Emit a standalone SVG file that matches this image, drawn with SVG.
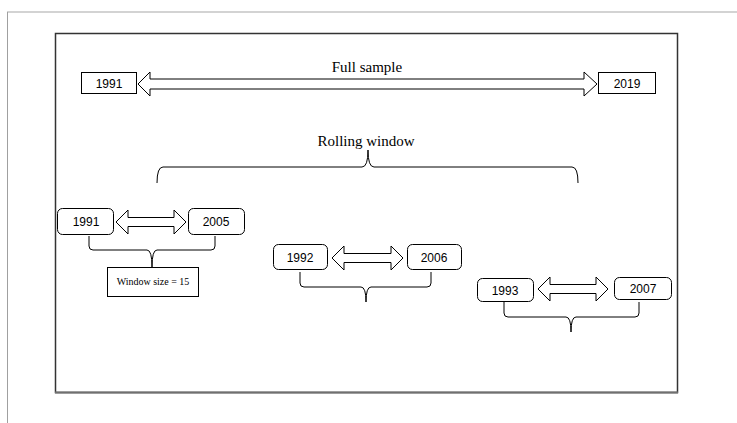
<svg xmlns="http://www.w3.org/2000/svg" width="737" height="423" viewBox="0 0 737 423">
<style>
.box{fill:#fff;stroke:#000;stroke-width:1}
.arr{fill:#fff;stroke:#000;stroke-width:1;stroke-linejoin:miter}
.br{fill:none;stroke:#000;stroke-width:1}
.num{font-family:"Liberation Sans",Arial,sans-serif;font-size:12px;text-anchor:middle;fill:#000}
.ser{font-family:"Liberation Serif","Times New Roman",serif;text-anchor:middle;fill:#000}
</style>
<rect x="0" y="0" width="737" height="423" fill="#fff"/>
<line x1="7" y1="12" x2="737" y2="12" stroke="#c4c4c4" stroke-width="1.5"/>
<line x1="7.5" y1="12" x2="7.5" y2="423" stroke="#a0a0a0" stroke-width="1"/>
<g id="frame">
<rect x="55.5" y="33.5" width="622" height="359" fill="none" stroke="#333" stroke-width="1.5"/>
<line x1="55" y1="392.5" x2="678" y2="392.5" stroke="#707070" stroke-width="2"/>
</g>
<g id="connectors">
<polygon class="arr" points="138,84 150,72 150,79 584,79 584,72 597,84 584,96 584,89 150,89 150,96"/>
<polygon class="arr" points="116,222 128,210 128,217.5 174,217.5 174,210 186,222 174,234 174,226.5 128,226.5 128,234"/>
<polygon class="arr" points="332,258 344,246 344,253.5 391,253.5 391,246 403,258 391,270 391,262.5 344,262.5 344,270"/>
<polygon class="arr" points="538,289 550,277 550,284.5 596,284.5 596,277 608,289 596,301 596,293.5 550,293.5 550,301"/>
<path class="br" d="M157,183 Q157,167 163,167 L362,167 Q368,167 368,150 Q368,167 374,167 L572,167 Q578,167 578,183"/>
<path class="br" d="M89,236 L89,246 Q89,250 93,250 L147,250 Q152,250 152,267 Q152,250 157,250 L211,250 Q215,250 215,246 L215,236"/>
<path class="br" d="M300,272 L300,283 Q300,287 304,287 L361,287 Q366,287 366,302 Q366,287 371,287 L427,287 Q431,287 431,283 L431,272"/>
<path class="br" d="M504,302 L504,313 Q504,317 508,317 L566,317 Q571,317 571,332 Q571,317 576,317 L635,317 Q639,317 639,313 L639,302"/>
</g>
<g id="label-full-sample"><text class="ser" x="367" y="72" font-size="15">Full sample</text></g>
<g id="label-rolling-window"><text class="ser" x="366" y="146" font-size="15">Rolling window</text></g>
<g id="node-1991-full"><rect class="box" x="81.5" y="72.5" width="55" height="21"/><text class="num" x="109" y="88">1991</text></g>
<g id="node-2019-full"><rect class="box" x="598.5" y="72.5" width="57" height="21"/><text class="num" x="627" y="88">2019</text></g>
<g id="node-1991"><rect class="box" x="57.5" y="208.5" width="56" height="26" rx="5"/><text class="num" x="86" y="226">1991</text></g>
<g id="node-2005"><rect class="box" x="188.5" y="208.5" width="56" height="26" rx="5"/><text class="num" x="216" y="226">2005</text></g>
<g id="node-window-size"><rect class="box" x="107.5" y="267.5" width="91" height="29"/><text class="ser" x="153" y="285" font-size="10">Window size = 15</text></g>
<g id="node-1992"><rect class="box" x="273.5" y="244.5" width="54" height="25" rx="5"/><text class="num" x="300" y="262">1992</text></g>
<g id="node-2006"><rect class="box" x="407.5" y="244.5" width="54" height="25" rx="5"/><text class="num" x="434" y="262">2006</text></g>
<g id="node-1993"><rect class="box" x="477.5" y="278.5" width="56" height="23" rx="5"/><text class="num" x="505" y="295">1993</text></g>
<g id="node-2007"><rect class="box" x="614.5" y="277.5" width="57" height="22" rx="5"/><text class="num" x="643" y="293">2007</text></g>
</svg>
